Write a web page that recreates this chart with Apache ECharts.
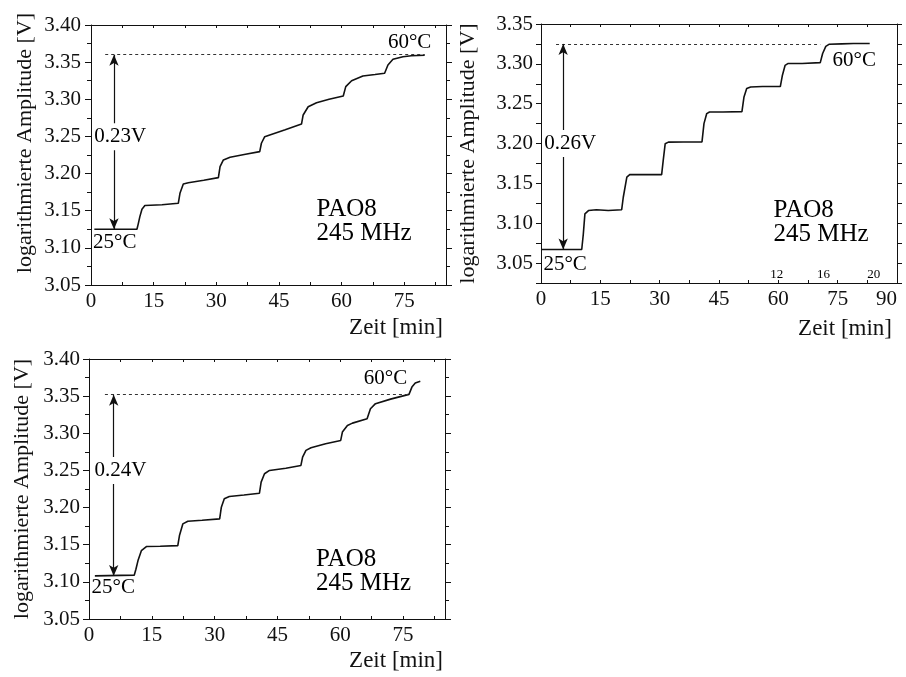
<!DOCTYPE html>
<html><head><meta charset="utf-8">
<script src="https://cdn.jsdelivr.net/npm/echarts@6/dist/echarts.min.js"></script>
<style>html,body{margin:0;padding:0;background:#fff}#c{width:906px;height:677px}</style>
</head><body><div id="c"></div>
<script>
// ---- Data ----
const p1Time = [0.8, 11.0, 11.3, 11.7, 12.2, 12.9, 17, 20.9, 21.3, 22.1, 23.3, 27, 30.5, 30.9, 31.7, 33.3, 37, 40.4, 40.8, 41.6, 42.8, 46.5, 50.4, 50.8, 52.0, 54.0, 57, 60.4, 61.0, 62.4, 65.1, 68, 70.3, 71.1, 72.3, 74.7, 76.7, 79.9];
const p1Amp  = [3.125, 3.125, 3.132, 3.142, 3.152, 3.157, 3.158, 3.160, 3.1735, 3.186, 3.1877, 3.191, 3.1945, 3.2093, 3.2183, 3.222, 3.226, 3.2295, 3.2408, 3.2497, 3.252, 3.259, 3.2667, 3.2789, 3.290, 3.2954, 3.300, 3.3044, 3.317, 3.325, 3.3313, 3.3333, 3.335, 3.3462, 3.3538, 3.3573, 3.3587, 3.3592];

const p2Time = [0, 10.3, 10.7, 11.1, 12.0, 14, 17, 20.4, 20.8, 21.7, 22.5, 26, 30.5, 30.9, 31.4, 32.2, 36, 40.7, 41.2, 41.9, 42.6, 46, 50.8, 51.3, 52.0, 53, 56, 60.5, 61.0, 61.7, 62.5, 66, 70.6, 71.2, 72.0, 72.8, 76, 79, 83.1];
const p2Amp  = [3.067, 3.067, 3.0865, 3.1117, 3.1159, 3.117, 3.116, 3.117, 3.1326, 3.1578, 3.1612, 3.161, 3.161, 3.1788, 3.1998, 3.2018, 3.202, 3.202, 3.225, 3.2376, 3.2396, 3.2396, 3.240, 3.258, 3.269, 3.271, 3.2715, 3.2715, 3.285, 3.298, 3.3005, 3.3005, 3.3015, 3.313, 3.322, 3.3245, 3.325, 3.3255, 3.3255];

const p3Time = [1.4, 10.8, 11.2, 11.7, 12.5, 13.7, 17, 21.2, 21.6, 22.4, 23.6, 27, 31.2, 31.6, 32.3, 33.5, 37, 40.7, 41.1, 41.9, 43.1, 47, 50.6, 51.0, 51.8, 53.0, 56.5, 60.1, 60.5, 61.7, 62.9, 66.4, 67.2, 68.4, 72, 76.4, 77.1, 77.9, 79.1];
const p3Amp  = [3.108, 3.109, 3.117, 3.1286, 3.142, 3.1475, 3.148, 3.1488, 3.1623, 3.178, 3.1816, 3.183, 3.1848, 3.2005, 3.2118, 3.2149, 3.217, 3.2193, 3.2342, 3.2455, 3.25, 3.253, 3.2567, 3.2679, 3.277, 3.2805, 3.286, 3.2904, 3.3016, 3.3106, 3.3137, 3.3196, 3.3331, 3.3399, 3.346, 3.3524, 3.3622, 3.3676, 3.37];

// axis ranges / ticks
const xMax = [85, 90, 85];
const yMin = [3.05, 3.025, 3.05];
const yMax = [3.40, 3.35, 3.40];
const yStep = [0.05, 0.025, 0.05];

// annotations
const refLevel = [3.36, 3.325, 3.352];
const refStart = [3.4, 3.8, 3.8];
const refEnd   = [79.9, 70.6, 76.8];
const arrowX   = [5.5, 5.6, 5.9];
const arrowLow = [3.125, 3.067, 3.108];
const deltaText = ['0.23V', '0.26V', '0.24V'];
const deltaPos  = [[7.0, 3.2497], [7.4, 3.20], [7.5, 3.25]];
const lowTempPos  = [[5.7, 3.1066], [6.1, 3.0488], [5.8, 3.0926]];
const highTempPos = [[76.3, 3.376], [79.2, 3.3047], [70.8, 3.3736]];
const sampleText = 'PAO8\n245 MHz';
const samplePos  = [[54.0, 3.1355], [58.8, 3.1011], [54.2, 3.1144]];
const extraLabels = ['12', '16', '20'];
const extraX = [59.6, 71.4, 84.1];
const extraY = 3.0353;

const series = [[p1Time, p1Amp], [p2Time, p2Amp], [p3Time, p3Amp]];

// ---- Chart ----
const FONT = 'Liberation Serif';
const INK = '#111';
const grids = [
  {left: 91, top: 25, width: 355, height: 260},
  {left: 541, top: 24, width: 356, height: 259},
  {left: 89, top: 359, width: 356, height: 260}
];
const yNameGap = [55, 62, 56];
const yNamePad = [[0, 0, 0, 24], [0, 0, 0, 0], [0, 0, 0, 0]];
const yLabelMargin = [10, 8, 9];
const xNamePad = [31, 34, 30];
const xNameGap = [-3, -5, -2];

function xAx(i, top) {
  return {
    type: 'value', gridIndex: i, position: top ? 'top' : 'bottom',
    min: 0, max: xMax[i], interval: 7.5,
    axisLine: {show: true, onZero: false, lineStyle: {color: INK, width: 1}},
    axisTick: {show: true, inside: true, length: 3, lineStyle: {color: INK, width: 1}},
    minorTick: {show: false},
    splitLine: {show: false},
    axisLabel: {
      show: !top, margin: 6, color: INK, fontFamily: FONT, fontSize: 21,
      alignMaxLabel: i === 1 ? 'right' : null,
      formatter: v => (Math.abs(v % 15) < 1e-6 ? String(v) : '')
    },
    name: top ? '' : 'Zeit [min]',
    nameLocation: 'end', nameGap: xNameGap[i],
    nameTextStyle: {fontFamily: FONT, fontSize: 23, color: INK, align: 'right', verticalAlign: 'top', padding: [xNamePad[i], 0, 0, 0]}
  };
}
function yAx(i, right) {
  return {
    type: 'value', gridIndex: i, position: right ? 'right' : 'left',
    min: yMin[i], max: yMax[i], interval: yStep[i],
    axisLine: {show: true, onZero: false, lineStyle: {color: INK, width: 1}},
    axisTick: {show: true, inside: false, length: i === 1 ? 5 : 6, lineStyle: {color: INK, width: 1}},
    minorTick: {show: i !== 1, splitNumber: 2, length: 4, lineStyle: {color: INK, width: 1}},
    splitLine: {show: false},
    axisLabel: {
      show: !right, margin: yLabelMargin[i], color: INK, fontFamily: FONT, fontSize: 21,
      formatter: v => { const k = v * 20; return Math.abs(k - Math.round(k)) < 1e-6 ? v.toFixed(2) : ''; }
    },
    name: right ? '' : 'logarithmierte Amplitude [V]',
    nameLocation: 'middle', nameGap: yNameGap[i],
    nameTextStyle: {fontFamily: FONT, fontSize: 22, color: INK, padding: yNamePad[i]}
  };
}

const xAxis = [], yAxis = [], allSeries = [];
for (let i = 0; i < 3; i++) {
  xAxis.push(xAx(i, false), xAx(i, true));
  yAxis.push(yAx(i, false), yAx(i, true));
  const [t, a] = series[i];
  allSeries.push({
    type: 'line', xAxisIndex: 2 * i, yAxisIndex: 2 * i,
    data: t.map((x, k) => [x, a[k]]),
    showSymbol: false, symbol: 'none', silent: true, z: 3,
    lineStyle: {color: INK, width: 1.6},
    markLine: {
      silent: true, symbol: ['none', 'none'], animation: false,
      label: {show: false},
      data: [
        [{coord: [refStart[i], refLevel[i]], lineStyle: {type: [3, 3], width: 1, color: '#333'}},
         {coord: [refEnd[i], refLevel[i]]}],
        [{coord: [arrowX[i], arrowLow[i]], symbol: 'arrow', symbolSize: [7, 11], lineStyle: {type: 'solid', width: 1.2, color: INK}},
         {coord: [arrowX[i], refLevel[i]], symbol: 'arrow', symbolSize: [7, 11]}]
      ]
    }
  });
  const lbl = (pos, text, extra) => ({
    value: pos,
    label: Object.assign({show: true, position: 'inside', formatter: text, color: '#000', opacity: 1,
      textBorderWidth: 0, fontFamily: FONT, fontSize: 21}, extra || {})
  });
  const texts = [
    lbl(deltaPos[i], deltaText[i], {backgroundColor: '#fff', padding: [3, 1]}),
    lbl(lowTempPos[i], '25°C'),
    lbl(highTempPos[i], '60°C'),
    lbl(samplePos[i], sampleText, {fontSize: 25, lineHeight: 24, align: 'left'})
  ];
  if (i === 1) {
    extraLabels.forEach((s, k) => texts.push(lbl([extraX[k], extraY], s, {fontSize: 13})));
  }
  allSeries.push({
    type: 'scatter', xAxisIndex: 2 * i, yAxisIndex: 2 * i, silent: true, z: 10,
    symbolSize: 0, itemStyle: {color: '#000', opacity: 1},
    data: texts
  });
}

const chart = echarts.init(document.getElementById('c'), null, {renderer: 'canvas'});
chart.setOption({
  animation: false,
  backgroundColor: '#fff',
  grid: grids,
  xAxis, yAxis,
  series: allSeries
});
</script>
</body></html>
